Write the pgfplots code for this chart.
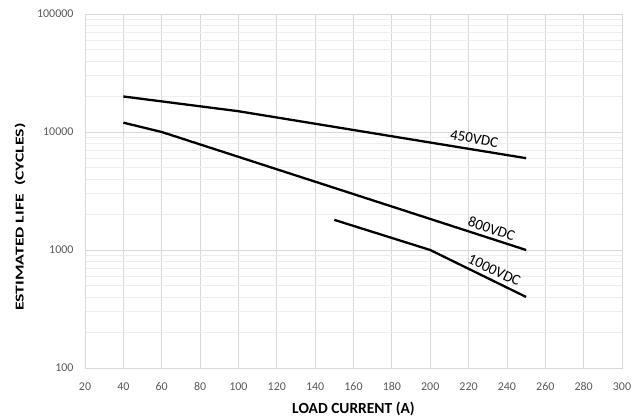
\documentclass[border=0pt]{standalone}
\usepackage{pgfplots}
\pgfplotsset{compat=1.18}
\usepackage{fontspec}
\setmainfont{Carlito}
\definecolor{gridmaj}{HTML}{D9D9D9}
\definecolor{gridmin}{HTML}{EDEDED}
\definecolor{ticklab}{HTML}{595959}
\begin{document}
\begin{tikzpicture}
\begin{axis}[name=ax,
  scale only axis, width=537bp, height=354bp,
  xmin=20, xmax=300, ymode=log, ymin=100, ymax=100000,
  /pgf/number format/assume math mode=true,
  xtick={20,40,60,80,100,120,140,160,180,200,220,240,260,280,300},
  xticklabels={20,40,60,80,100,120,140,160,180,200,220,240,260,280,300},
  ytick={100,1000,10000,100000},
  yticklabels={100,1000,10000,100000},
  xmajorgrids, ymajorgrids, yminorgrids,
  major grid style={draw=gridmaj, line width=0.8bp},
  minor grid style={draw=gridmin, line width=0.8bp},
  axis line style={draw=gridmaj, line width=0.8bp},
  tick style={draw=none},
  minor tick style={draw=none},
  ticklabel style={font=\fontsize{12}{14}\selectfont, text=ticklab},
  xticklabel style={yshift=-11bp},
  yticklabel style={xshift=-8bp},
  every axis x label/.style={at={(axis description cs:0.5,0)}, anchor=center, yshift=-41bp},
  every axis y label/.style={at={(axis description cs:0,0.5)}, anchor=center, rotate=90, yshift=65bp, xshift=-26bp},
  xlabel={\fontsize{15.5}{18}\selectfont\bfseries LOAD CURRENT (A)},
  ylabel={\fontsize{11.5}{14}\selectfont\bfseries\scalebox{1.55}[1.05]{ESTIMATED LIFE\ \ (CYCLES)}},
  clip=false,
]
\addplot[black, line width=2.3bp] coordinates {(40,20000) (100,15000) (250,6000)};
\addplot[black, line width=2.3bp] coordinates {(40,12000) (60,10000) (250,1000)};
\addplot[black, line width=2.3bp] coordinates {(150,1800) (200,1000) (250,400)};
\node[font=\fontsize{15}{18}\selectfont, rotate=-10] at (axis cs:223,8750) {450VDC};
\node[font=\fontsize{15}{18}\selectfont, rotate=-19] at (axis cs:232,1514) {800VDC};
\node[font=\fontsize{15}{18}\selectfont, rotate=-25] at (axis cs:233.4,675) {1000VDC};
\end{axis}
\useasboundingbox ([shift={(-85bp,-51bp)}]ax.south west) rectangle ([shift={(15bp,14bp)}]ax.north east);
\end{tikzpicture}
\end{document}
